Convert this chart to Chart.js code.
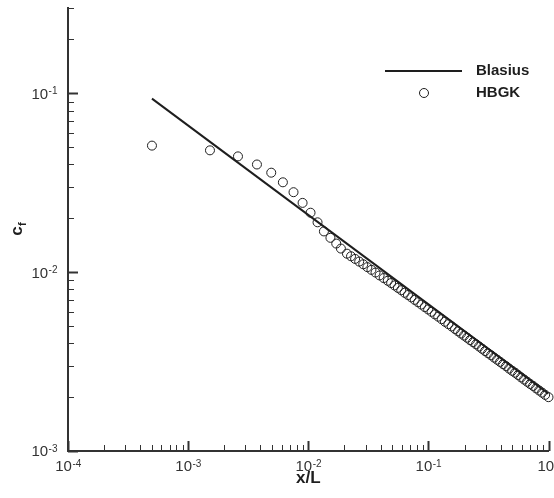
<!DOCTYPE html>
<html lang="en">
<head>
    <meta charset="UTF-8">
    <title>Skin friction coefficient</title>
    <style>
        body {
            margin: 0;
            background: #fff;
        }
        .wrap {
            width: 554px;
            height: 498px;
        }
    </style>
    <script src="https://cdn.jsdelivr.net/npm/chart.js"></script>
</head>
<body>

<div class="wrap"><canvas id="cfChart"></canvas></div>

<script>
    // Blasius solution (straight line in log-log)
    const blasiusX = [0.0005, 1.0];
    const blasiusY = [0.0934, 0.00209];

    // HBGK results
    const hbgkX = [
        0.0005, 0.00152, 0.0026, 0.00374, 0.00492, 0.00615, 0.00754, 0.00897, 0.01045, 0.01195,
        0.0135, 0.0153, 0.0171, 0.0187, 0.0210, 0.0227, 0.02455, 0.02655, 0.02871, 0.03105,
        0.03357, 0.03631, 0.03926, 0.04246, 0.04592, 0.04898, 0.05224, 0.05572, 0.05943, 0.06339,
        0.06761, 0.07211, 0.07691, 0.08204, 0.0875, 0.09333, 0.09954, 0.1062, 0.1132, 0.1208,
        0.1288, 0.1374, 0.1466, 0.1563, 0.1667, 0.1766, 0.1871, 0.1982, 0.2099, 0.2223,
        0.2355, 0.2495, 0.2642, 0.2799, 0.2965, 0.3141, 0.3327, 0.3524, 0.3733, 0.3954,
        0.4188, 0.4436, 0.4699, 0.4977, 0.5272, 0.5585, 0.5916, 0.6266, 0.6637, 0.7031,
        0.7447, 0.7889, 0.8356, 0.8851, 0.9376, 1.0
    ];
    const hbgkY = [
        0.051, 0.048, 0.0444, 0.040, 0.036, 0.0318, 0.028, 0.0244, 0.0215, 0.019,
        0.0169, 0.01556, 0.01445, 0.01355, 0.01269, 0.01227, 0.01186, 0.01146, 0.01107, 0.01067,
        0.0103, 0.00995, 0.00959, 0.00927, 0.00895, 0.00869, 0.00843, 0.00817, 0.00793, 0.00767,
        0.00745, 0.00723, 0.0070, 0.00679, 0.00659, 0.00638, 0.00619, 0.0060, 0.00581, 0.00564,
        0.00546, 0.00528, 0.00512, 0.00497, 0.00481, 0.00467, 0.00454, 0.00442, 0.0043, 0.00417,
        0.00406, 0.00395, 0.00384, 0.00373, 0.00362, 0.00352, 0.00343, 0.00333, 0.00324, 0.00315,
        0.00306, 0.00298, 0.00289, 0.00281, 0.00274, 0.00266, 0.00258, 0.00251, 0.00244, 0.00237,
        0.00231, 0.00224, 0.00218, 0.00212, 0.00206, 0.0020
    ];

    // axis decades and the exponents printed on them
    const xDecades = [1e-4, 1e-3, 1e-2, 1e-1, 1];
    const xExponents = ['-4', '-3', '-2', '-1', '0'];
    const yDecades = [1e-3, 1e-2, 1e-1];
    const yExponents = ['-3', '-2', '-1'];
    const minorSteps = [1, 2, 3, 4, 5, 6, 7, 8, 9];
    const yTop = 0.3;

    const seriesNames = ['Blasius', 'HBGK'];

    const ink = '#1e1e1e';
    const axisInk = '#333';
    const fontFamily = "'Liberation Sans', Arial, Helvetica, sans-serif";

    // all tick positions (1..9 in each decade)
    function tickValues(decades, max) {
        const out = [];
        decades.forEach(function(d) {
            minorSteps.forEach(function(s) {
                const v = +(s * d).toPrecision(6);
                if (v <= max + 1e-12) out.push(v);
            });
        });
        return out;
    }
    const xTicks = tickValues(xDecades, 1);
    const yTicks = tickValues(yDecades, yTop);

    function toPoints(xs, ys) {
        return xs.map(function(x, i) { return {x: x, y: ys[i]}; });
    }

    // "10" with a raised exponent; align is 'center' or 'right'
    function powerLabel(ctx, exp, x, midY, align) {
        ctx.font = '15px ' + fontFamily;
        const wBase = ctx.measureText('10').width;
        ctx.font = '10px ' + fontFamily;
        const wExp = ctx.measureText(exp).width;
        const left = align === 'center' ? x - (wBase + wExp) / 2 : x - wBase - wExp;
        ctx.textAlign = 'left';
        ctx.textBaseline = 'alphabetic';
        ctx.font = '15px ' + fontFamily;
        ctx.fillText('10', left, midY + 5.4);
        ctx.font = '10px ' + fontFamily;
        ctx.fillText(exp, left + wBase + 0.5, midY + 1);
    }

    // inward tick marks, tick labels, legend and the y title with its subscript
    const decorPlugin = {
        id: 'decor',
        afterDraw: function(chart) {
            const ctx = chart.ctx;
            const xs = chart.scales.x;
            const ys = chart.scales.y;
            const area = chart.chartArea;
            ctx.save();
            ctx.strokeStyle = axisInk;

            xTicks.forEach(function(v) {
                const major = xDecades.indexOf(v) >= 0;
                const px = Math.round(xs.getPixelForValue(v)) + 0.5;
                ctx.lineWidth = major ? 2 : 1;
                ctx.beginPath();
                ctx.moveTo(px, area.bottom);
                ctx.lineTo(px, area.bottom - (major ? 10 : 6));
                ctx.stroke();
            });
            yTicks.forEach(function(v) {
                const major = yDecades.indexOf(v) >= 0;
                const py = Math.round(ys.getPixelForValue(v)) + 0.5;
                ctx.lineWidth = major ? 2 : 1;
                ctx.beginPath();
                ctx.moveTo(area.left, py);
                ctx.lineTo(area.left + (major ? 10 : 6), py);
                ctx.stroke();
            });

            // tick labels
            ctx.fillStyle = axisInk;
            xDecades.forEach(function(v, i) {
                powerLabel(ctx, xExponents[i], xs.getPixelForValue(v), area.bottom + 15, 'center');
            });
            yDecades.forEach(function(v, i) {
                powerLabel(ctx, yExponents[i], area.left - 11, ys.getPixelForValue(v), 'right');
            });

            // legend
            ctx.strokeStyle = ink;
            ctx.lineWidth = 2;
            ctx.beginPath();
            ctx.moveTo(385, 71);
            ctx.lineTo(462, 71);
            ctx.stroke();
            ctx.lineWidth = 1;
            ctx.beginPath();
            ctx.arc(424, 93, 4.5, 0, Math.PI * 2);
            ctx.stroke();
            ctx.fillStyle = ink;
            ctx.font = 'bold 15px ' + fontFamily;
            ctx.textBaseline = 'middle';
            ctx.textAlign = 'left';
            ctx.fillText(seriesNames[0], 476, 71);
            ctx.fillText(seriesNames[1], 476, 93);

            // y title: c with subscript f, rotated
            ctx.translate(17, 231);
            ctx.rotate(-Math.PI / 2);
            ctx.textAlign = 'center';
            ctx.font = 'bold 17px ' + fontFamily;
            ctx.fillText('c', 0, 0);
            ctx.textAlign = 'left';
            ctx.font = 'bold 11px ' + fontFamily;
            ctx.fillText('f', 5, 6);
            ctx.restore();
        }
    };

    const ctx = document.getElementById('cfChart').getContext('2d');
    const cfChart = new Chart(ctx, {
        type: 'scatter',
        data: {
            datasets: [{
                label: seriesNames[0],
                data: toPoints(blasiusX, blasiusY),
                showLine: true,
                borderColor: ink,
                borderWidth: 2,
                pointRadius: 0,
                fill: false
            }, {
                label: seriesNames[1],
                data: toPoints(hbgkX, hbgkY),
                showLine: false,
                pointStyle: 'circle',
                pointRadius: 4.5,
                borderColor: ink,
                borderWidth: 1,
                backgroundColor: 'rgba(0,0,0,0)',
                clip: false
            }]
        },
        options: {
            responsive: true,
            maintainAspectRatio: false,
            animation: false,
            layout: {
                padding: {left: 0, top: 8, right: 5, bottom: 0}
            },
            plugins: {
                legend: {display: false},
                tooltip: {enabled: false}
            },
            scales: {
                x: {
                    type: 'logarithmic',
                    min: 1e-4,
                    max: 1,
                    afterBuildTicks: function(axis) {
                        axis.ticks = xTicks.map(function(v) { return {value: v}; });
                    },
                    afterFit: function(axis) {
                        axis.height = 47;
                        axis.paddingLeft = 0;
                        axis.paddingRight = 0;
                    },
                    grid: {display: false, drawTicks: false},
                    border: {display: true, color: axisInk, width: 2},
                    ticks: {display: false},
                    title: {
                        display: true,
                        text: 'x/L',
                        color: ink,
                        font: {family: fontFamily, size: 17, weight: 'bold'},
                        padding: {top: 0, bottom: 9}
                    }
                },
                y: {
                    type: 'logarithmic',
                    min: 1e-3,
                    max: yTop,
                    afterBuildTicks: function(axis) {
                        axis.ticks = yTicks.map(function(v) { return {value: v}; });
                    },
                    afterFit: function(axis) {
                        axis.width = 68;
                        axis.paddingTop = 0;
                        axis.paddingBottom = 0;
                    },
                    grid: {display: false, drawTicks: false},
                    border: {display: true, color: axisInk, width: 2},
                    ticks: {display: false}
                }
            }
        },
        plugins: [decorPlugin]
    });
</script>

</body>
</html>
